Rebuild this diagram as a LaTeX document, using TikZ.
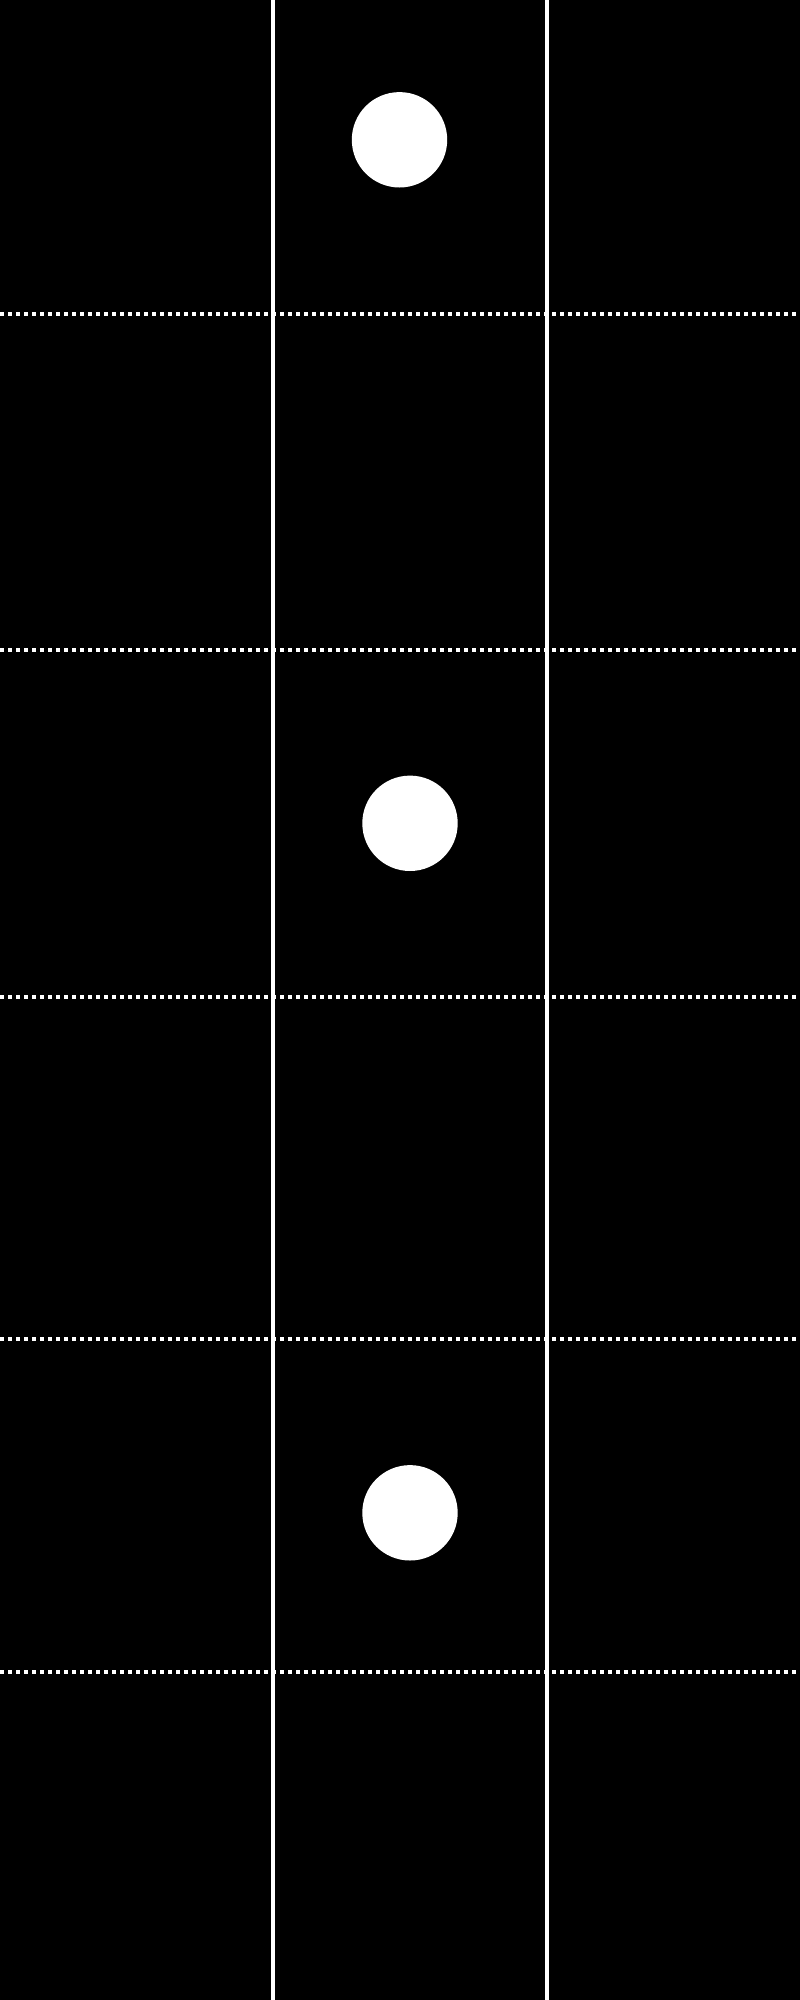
\documentclass[tikz,border=0pt]{standalone}
\begin{document}
\begin{tikzpicture}[x=1pt,y=-1pt,
  vline/.style={draw=white,line width=3.5pt},
  dotline/.style={draw=white,line width=4pt,dash pattern=on 4pt off 4pt},
  dot/.style={fill=white}]
\fill[black] (0,0) rectangle (800,2000);
\useasboundingbox (0,0) rectangle (800,2000);
\draw[vline] (273,0) -- (273,2000);
\draw[vline] (547,0) -- (547,2000);
\foreach \y in {314.3,650.3,997,1339.3,1672.3}
  \draw[dotline] (0,\y) -- (800,\y);
\fill[dot] (399.5,139.8) circle (47.7);
\fill[dot] (410,823.3) circle (47.7);
\fill[dot] (410,1512.8) circle (47.7);
\end{tikzpicture}
\end{document}
